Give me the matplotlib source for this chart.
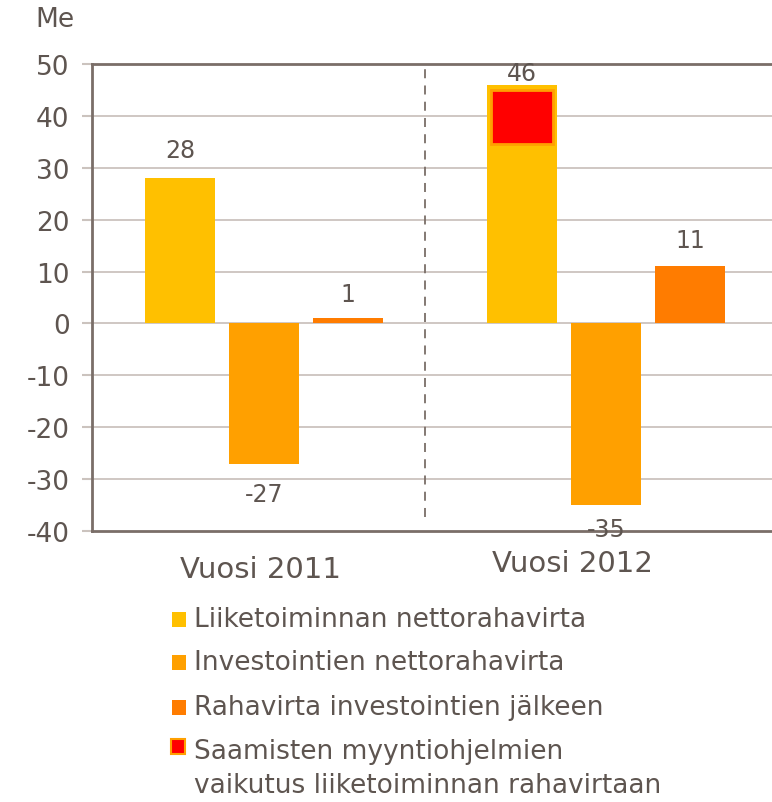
import matplotlib.pyplot as plt
from matplotlib.patches import Rectangle

# data (Me)
years = ["Vuosi 2011", "Vuosi 2012"]
liiketoiminta = [28, 46]
investoinnit = [-27, -35]
rahavirta = [1, 11]
# saamisten myyntiohjelmien vaikutus (2012 only), drawn inside the first bar
saamiset_bottom = 34.5
saamiset_value = 10.5

legend_labels = [
    "Liiketoiminnan nettorahavirta",
    "Investointien nettorahavirta",
    "Rahavirta investointien jälkeen",
    "Saamisten myyntiohjelmien\nvaikutus liiketoiminnan rahavirtaan",
]

c_yellow = "#FFC000"
c_orange = "#FFA000"
c_dark = "#FF7C00"
c_red = "#FF0000"
txt = "#5E5550"
spine = "#7A6E68"
grid = "#CBC3BE"

plt.rcParams["font.family"] = "DejaVu Sans"
plt.rcParams["axes.unicode_minus"] = False

fig = plt.figure(figsize=(7.72, 8.03), dpi=100)
ax = fig.add_axes([0.119, 0.3375, 0.881, 0.5816])

w = 0.205
off = 0.2456
x = [0, 1]
series = [liiketoiminta, investoinnit, rahavirta]
colors = [c_yellow, c_orange, c_dark]
for k, (vals, col) in enumerate(zip(series, colors)):
    xs = [xi + (k - 1) * off for xi in x]
    ax.bar(xs, vals, width=w, color=col, zorder=3)

# red inset box in 2012 first bar
ax.bar(1 - off, saamiset_value, bottom=saamiset_bottom, width=w * 0.88,
       color=c_red, edgecolor=c_orange, linewidth=2, zorder=4)

# value labels (offsets in pixels)
label_off = [[16, 0], [-18, -12], [12, 14]]
for k, vals in enumerate(series):
    for i, v in enumerate(vals):
        dy = label_off[k][i]
        ax.annotate(str(v), (x[i] + (k - 1) * off, v), xytext=(0, dy * 0.72),
                    textcoords="offset points", ha="center",
                    va="bottom" if v >= 0 else "top", fontsize=17, color=txt,
                    zorder=5)

ax.set_ylim(-40, 50)
ax.set_xlim(-0.503, 1.485)
ax.set_yticks(range(-40, 51, 10))
ax.tick_params(axis="y", colors=grid, labelcolor=txt, labelsize=19,
               length=7, width=1.5, pad=9)
ax.set_xticks([])
for y in range(-30, 50, 10):
    ax.axhline(y, color=grid, lw=1.3, zorder=1)
ax.axvline(0.47, ymin=0.03, ymax=1.0, color=spine, lw=1.3, ls=(0, (5, 4)),
           zorder=2)
ax.spines["right"].set_visible(False)
for s in ["left", "top", "bottom"]:
    ax.spines[s].set_color(spine)
    ax.spines[s].set_linewidth(2)

fig.text(35 / 772, 1 - 20 / 803, "Me", fontsize=19, color=txt, va="center")
fig.text(260 / 772, 1 - 570 / 803, years[0], fontsize=21, color=txt,
         ha="center", va="center")
fig.text(572 / 772, 1 - 564 / 803, years[1], fontsize=21, color=txt,
         ha="center", va="center")

# legend
rows = [620, 663, 708, 752]
lcolors = [c_yellow, c_orange, c_dark, c_red]
for lab, col, yy in zip(legend_labels, lcolors, rows):
    if col == c_red:
        fig.patches.append(Rectangle((171 / 772, 1 - (yy + 3) / 803), 14 / 772,
                                     15 / 803, transform=fig.transFigure,
                                     facecolor=c_red, edgecolor=c_orange, lw=1.5))
        fig.text(194 / 772, 1 - (yy - 13) / 803, lab, fontsize=19, color=txt,
                 va="top", linespacing=1.4)
    else:
        fig.patches.append(Rectangle((172 / 772, 1 - (yy + 8) / 803), 14 / 772,
                                     15 / 803, transform=fig.transFigure,
                                     facecolor=col, edgecolor="none"))
        fig.text(194 / 772, 1 - yy / 803, lab, fontsize=19, color=txt,
                 va="center")

fig.savefig("out.png", dpi=100)
